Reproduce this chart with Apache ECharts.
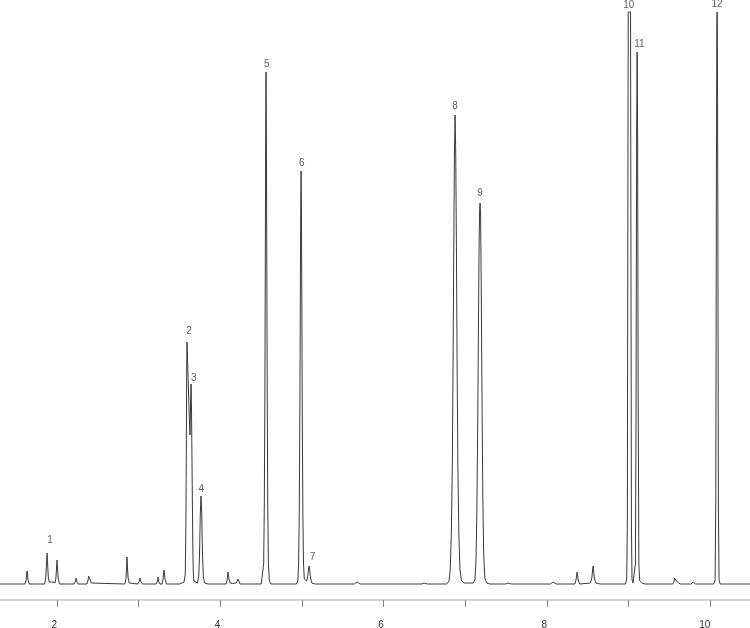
<!DOCTYPE html>
<html>
<head>
<meta charset="utf-8">
<script src="https://cdn.jsdelivr.net/npm/echarts@6/dist/echarts.min.js"></script>
<style>
html,body{margin:0;padding:0;background:#fff;}
#chart{width:750px;height:628px;}
</style>
</head>
<body>
<div id="chart"></div>
<script>
// Retention time (min) of trace points
var traceTime = [
  1.300, 1.608, 1.622, 1.628, 1.633, 1.638, 1.644, 1.658,
  1.848, 1.862, 1.870, 1.878, 1.886, 1.894, 1.905, 1.950,
  1.975, 1.986, 1.993, 2.000, 2.007, 2.014, 2.030,
  2.210, 2.226, 2.233, 2.240, 2.256,
  2.365, 2.380, 2.386, 2.392, 2.398, 2.406, 2.420, 2.440,
  2.830, 2.845, 2.851, 2.857, 2.863, 2.870, 2.885, 2.900,
  2.990, 3.008, 3.016, 3.024, 3.045,
  3.215, 3.230, 3.237, 3.244, 3.260,
  3.285, 3.298, 3.304, 3.310, 3.316, 3.322, 3.340,
  3.500, 3.555, 3.570, 3.578, 3.584, 3.588, 3.592, 3.605, 3.618, 3.628,
  3.636, 3.641, 3.647, 3.655, 3.662, 3.668, 3.675, 3.690,
  3.720, 3.735, 3.745, 3.754, 3.763, 3.772, 3.781, 3.791, 3.805, 3.850,
  4.070, 4.084, 4.089, 4.094, 4.099, 4.105, 4.120, 4.150,
  4.195, 4.210, 4.217, 4.224, 4.240,
  4.500, 4.520, 4.530, 4.538, 4.545, 4.551, 4.555, 4.559, 4.563, 4.567, 4.573, 4.580, 4.588, 4.600, 4.620,
  4.930, 4.948, 4.958, 4.966, 4.973, 4.979, 4.984, 4.988, 4.992, 4.997, 5.003, 5.010, 5.018, 5.028, 5.040,
  5.055, 5.068, 5.078, 5.086, 5.094, 5.104, 5.120, 5.160,
  5.640, 5.674, 5.710,
  6.460, 6.494, 6.530,
  6.770, 6.800, 6.815, 6.828, 6.840, 6.850, 6.858, 6.866, 6.874, 6.882, 6.890, 6.898, 6.908, 6.920, 6.933, 6.950, 6.980,
  7.100, 7.118, 7.130, 7.140, 7.150, 7.160, 7.168, 7.175, 7.180, 7.186, 7.194, 7.203, 7.213, 7.224, 7.238, 7.260, 7.300,
  7.490, 7.523, 7.560,
  8.040, 8.074, 8.110,
  8.340, 8.355, 8.362, 8.368, 8.374, 8.382, 8.400,
  8.530, 8.548, 8.557, 8.564, 8.571, 8.580, 8.600, 8.650,
  8.960, 8.975, 8.983, 8.988, 8.994, 9.022, 9.028, 9.033, 9.040, 9.052,
  9.070, 9.082, 9.090, 9.097, 9.103, 9.109, 9.116, 9.124, 9.135, 9.160, 9.200,
  9.540, 9.556, 9.562, 9.568, 9.574, 9.582, 9.600, 9.630,
  9.760, 9.788, 9.820,
  10.040, 10.058, 10.066, 10.073, 10.079, 10.082, 10.085, 10.091, 10.098, 10.106, 10.120, 10.490
];
// Detector signal at those times
var traceSignal = [
  0, 0, 4, 10, 13, 10, 4, 0,
  0, 6, 18, 31, 18, 6, 2, 2,
  1, 6, 15, 24, 15, 6, 0,
  0, 3, 6, 3, 0,
  0, 4, 8, 10, 8, 4, 1, 0,
  0, 6, 16, 27, 16, 6, 1, 0,
  0, 3, 6, 3, 0,
  0, 3, 7, 3, 0,
  0, 5, 10, 14, 10, 5, 0,
  0, 2, 10, 60, 150, 220, 242, 205, 170, 149,
  185, 200, 170, 100, 40, 12, 3, 1,
  1, 8, 30, 70, 88, 70, 30, 8, 1, 0,
  0, 5, 9, 12, 9, 5, 1, 0.5,
  1, 3, 5, 3, 0,
  0, 2, 20, 80, 200, 350, 460, 512, 460, 350, 200, 80, 20, 3, 0,
  0, 3, 20, 70, 170, 290, 380, 413, 380, 290, 170, 70, 20, 5, 3,
  3, 7, 14, 18, 14, 6, 1, 0,
  0, 2, 0,
  0, 1, 0,
  0, 3, 15, 50, 120, 230, 340, 430, 469, 430, 340, 230, 120, 50, 15, 4, 1,
  1, 5, 25, 70, 150, 260, 340, 375, 381, 370, 300, 190, 90, 30, 6, 1, 0,
  0, 1, 0,
  0, 2, 0,
  0, 4, 9, 12, 9, 4, 0,
  1, 6, 13, 18, 13, 5, 1, 0,
  0, 5, 60, 300, 572, 572, 300, 60, 5, 1,
  1, 20, 180, 450, 532, 450, 180, 20, 3, 1, 0,
  0, 3, 6, 8, 6, 3, 1, 0,
  0, 2, 0,
  0, 4, 80, 380, 560, 572, 560, 380, 80, 4, 0, 0
];
// Peak number labels and where they sit
var peakNames = ['1', '2', '3', '4', '5', '6', '7', '8', '9', '10', '11', '12'];
var peakLabelTime = [1.914, 3.616, 3.674, 3.767, 4.568, 4.996, 5.127, 6.874, 7.180, 9.001, 9.131, 10.082];
var peakLabelSignal = [44, 253, 206, 95, 520, 421, 27, 478, 391, 579, 540, 580];
// Axis ticks and labels
var tickValues = [2, 3, 4, 5, 6, 7, 8, 9, 10];
var tickLabels = [2, 4, 6, 8, 10];

var trace = traceTime.map(function (t, i) { return [t, traceSignal[i]]; });
var labels = peakNames.map(function (n, i) { return { value: [peakLabelTime[i], peakLabelSignal[i]], name: n }; });

var chart = echarts.init(document.getElementById('chart'), null, { renderer: 'canvas' });
chart.setOption({
  animation: false,
  backgroundColor: '#ffffff',
  grid: { left: 0, right: 0, top: 0, bottom: 28, containLabel: false, outerBoundsMode: 'none' },
  xAxis: {
    type: 'value',
    min: 1.3015,
    max: 10.485,
    axisLine: { show: true, onZero: false, lineStyle: { color: '#d2d2d2', width: 2 } },
    axisTick: { show: true, customValues: tickValues, length: 7, lineStyle: { color: '#888888', width: 1 } },
    axisLabel: {
      customValues: tickLabels, margin: 20, color: '#333333', align: 'right',
      fontFamily: 'Liberation Sans, Arial, sans-serif', fontSize: 10
    },
    splitLine: { show: false }
  },
  yAxis: {
    type: 'value',
    min: -16,
    max: 584,
    show: false,
    splitLine: { show: false }
  },
  series: [
    {
      type: 'line',
      data: trace,
      showSymbol: false,
      symbol: 'none',
      smooth: false,
      lineStyle: { color: '#3a3a3a', width: 1 },
      z: 2
    },
    {
      type: 'scatter',
      data: labels,
      symbolSize: 0,
      silent: true,
      label: {
        show: true,
        position: 'inside',
        formatter: function (p) { return p.name; },
        color: '#333333',
        fontFamily: 'Liberation Sans, Arial, sans-serif',
        fontSize: 10
      },
      z: 3
    }
  ]
});
</script>
</body>
</html>
